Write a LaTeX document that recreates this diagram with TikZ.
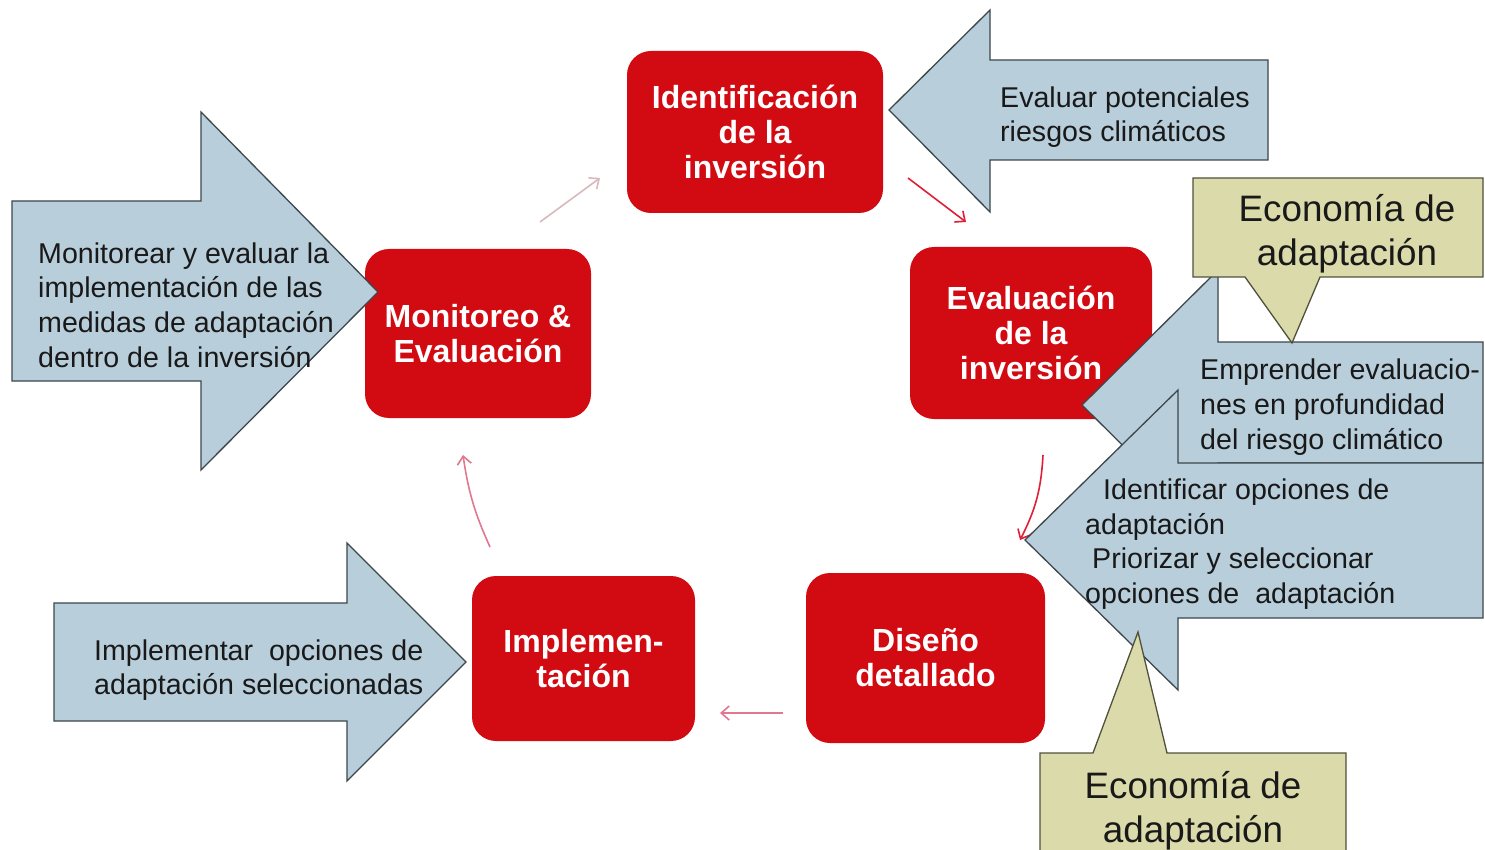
\documentclass[tikz,border=0pt]{standalone}
\usepackage{fontspec}
\setmainfont{Liberation Sans}
\usetikzlibrary{arrows.meta}
\definecolor{boxred}{RGB}{210,10,18}
\definecolor{arrblue}{RGB}{184,206,219}
\definecolor{arredge}{RGB}{60,70,75}
\definecolor{khaki}{RGB}{218,218,170}
\definecolor{khakiedge}{RGB}{80,80,60}
\definecolor{txt}{RGB}{25,25,25}
\definecolor{linkred}{RGB}{225,30,55}
\definecolor{linkpink}{RGB}{225,120,145}
\definecolor{linkpale}{RGB}{215,185,190}
\tikzset{
  redbox/.style={fill=boxred, rounded corners=24pt, text=white, align=center,
    font=\fontsize{32}{35}\selectfont\bfseries, inner sep=0pt},
  bluearrow/.style={fill=arrblue, draw=arredge, line width=1.3pt, line join=miter},
  callout/.style={fill=khaki, draw=khakiedge, line width=1.3pt},
  bluetext/.style={text=txt, align=left, inner sep=0pt, font=\fontsize{28.6}{34.7}\selectfont},
  calltext/.style={text=txt, align=center, inner sep=0pt, font=\fontsize{36.8}{44}\selectfont},
  link/.style={line width=1.6pt, -{Straight Barb[length=8pt,width=14pt]}},
}
\begin{document}
\begin{tikzpicture}[x=1pt,y=-1pt]
\useasboundingbox (0,0) rectangle (1485,850);
\clip (0,0) rectangle (1485,850);
\fill[white] (0,0) rectangle (1485,850);

% red process boxes
\node[redbox, minimum width=256pt, minimum height=162pt] (ident) at (755,132) {Identificación\\de la\\inversión};
\node[redbox, minimum width=226pt, minimum height=169pt] (monit) at (478,333.5) {Monitoreo \&\\Evaluación};
\node[redbox, minimum width=242pt, minimum height=172pt] (evalu) at (1031,333) {Evaluación\\de la\\inversión};
\node[redbox, minimum width=239pt, minimum height=170pt] (disen) at (925.5,658) {Diseño\\detallado};
\node[redbox, minimum width=223pt, minimum height=165pt] (imple) at (583.5,658.5) {Implemen-\\tación};

% connectors
\coordinate (c1s) at (540,222); \coordinate (c1e) at (600,178);
\coordinate (c2s) at (908,178); \coordinate (c2e) at (966,222);
\coordinate (c3s) at (1043,455); \coordinate (c3e) at (1020,540);
\coordinate (c4s) at (783,713); \coordinate (c4e) at (720,713);
\coordinate (c5s) at (490,547); \coordinate (c5e) at (463,455);
\draw[link, draw=linkpale] (c1s) -- (c1e);
\draw[link, draw=linkred] (c2s) -- (c2e);
\draw[link, draw=linkred] (c3s) to[bend left=12] (c3e);
\draw[link, draw=linkpink] (c4s) -- (c4e);
\draw[link, draw=linkpink] (c5s) to[bend left=8] (c5e);

% blue arrows
\draw[bluearrow] (889,110) -- (990,10) -- (990,60) -- (1268,60) -- (1268,160) -- (990,160) -- (990,212) -- cycle;
\draw[bluearrow] (12,201) -- (201,201) -- (201,112) -- (378,292) -- (201,470) -- (201,381) -- (12,381) -- cycle;
\draw[bluearrow] (54,603) -- (347,603) -- (347,543) -- (466,662) -- (347,781) -- (347,721) -- (54,721) -- cycle;
\draw[bluearrow] (1082,405) -- (1218,270) -- (1218,342) -- (1483,342) -- (1483,463) -- (1218,463) -- (1218,540) -- cycle;
\draw[bluearrow] (1025,540) -- (1178,390) -- (1178,463) -- (1483,463) -- (1483,618) -- (1178,618) -- (1178,690) -- cycle;

% callouts
\draw[callout] (1193,178) -- (1483,178) -- (1483,277) -- (1320,277) -- (1292,343) -- (1245,277) -- (1193,277) -- cycle;
\draw[callout] (1040,753) -- (1093,753) -- (1138,632) -- (1167,753) -- (1346,753) -- (1346,860) -- (1040,860) -- cycle;

% texts
\node[bluetext, anchor=west] (tevalpot) at (1000,117) {Evaluar potenciales\\riesgos climáticos};
\node[bluetext, anchor=west] (tmonit) at (38,305) {Monitorear y evaluar la\\implementación de las\\medidas de adaptación\\dentro de la inversión};
\node[bluetext, anchor=west] (timple) at (94,670) {Implementar\ \ opciones de\\adaptación seleccionadas};
\node[bluetext, anchor=west] (tempr) at (1200,407) {Emprender evaluacio-\\nes en profundidad\\del riesgo climático};
\node[bluetext, anchor=west] (tident) at (1085,544) {\hspace{18pt}Identificar opciones de\\adaptación\\\hspace{7pt}Priorizar y seleccionar\\opciones de\ \ adaptación};
\node[calltext] (ttop) at (1347,234) {Economía de\\adaptación};
\node[calltext] (tbot) at (1193,811) {Economía de\\adaptación};
\end{tikzpicture}
\end{document}
